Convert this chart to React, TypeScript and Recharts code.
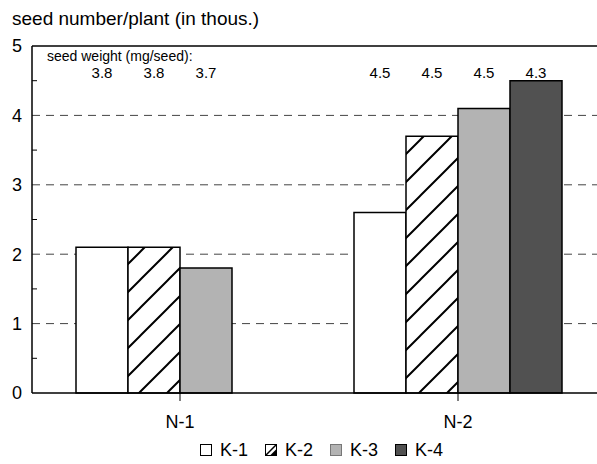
import React from "react";
import {
  Bar,
  BarChart,
  CartesianGrid,
  LabelList,
  Legend,
  ReferenceLine,
  XAxis,
  YAxis,
} from "recharts";

const categories = ["N-1", "N-2"];
const k1 = [2.1, 2.6];
const k2 = [2.1, 3.7];
const k3 = [1.8, 4.1];
const k4 = [null, 4.5];

// seed weight (mg/seed) written above each bar
const w1 = [3.8, 4.5];
const w2 = [3.8, 4.5];
const w3 = [3.7, 4.5];
const w4 = [null, 4.3];

const yTicks = [0, 0.5, 1, 1.5, 2, 2.5, 3, 3.5, 4, 4.5, 5];
const gridValues = [1, 2, 3, 4];

const series = [
  { key: "k1", wKey: "w1", name: "K-1", fill: "#ffffff" },
  { key: "k2", wKey: "w2", name: "K-2", fill: "url(#hatch)" },
  { key: "k3", wKey: "w3", name: "K-3", fill: "#b3b3b3" },
  { key: "k4", wKey: "w4", name: "K-4", fill: "#515151" },
];

const data = categories.map((name, i) => ({
  name,
  k1: k1[i],
  k2: k2[i],
  k3: k3[i],
  k4: k4[i],
  w1: w1[i],
  w2: w2[i],
  w3: w3[i],
  w4: w4[i],
}));

const FONT = "'Liberation Sans', Arial, sans-serif";
const Y_TICK_MARGIN = 10;
const WEIGHT_LABEL_Y = 78;

const YTick = (props: any) => {
  const { x, y, payload } = props;
  const v = payload.value;
  if (Number.isInteger(v)) {
    return (
      <text x={x} y={y} dy="0.355em" textAnchor="end" fontSize={18} fill="#000" fontFamily={FONT}>
        {v}
      </text>
    );
  }
  const ax = x + Y_TICK_MARGIN;
  return <line x1={ax} x2={ax + 5} y1={y} y2={y} stroke="#000" strokeWidth={1} />;
};

const weightLabel = (props: any) => {
  const vb = props.viewBox ?? props;
  const { value } = props;
  if (value == null) return null;
  return (
    <text
      x={vb.x + vb.width / 2}
      y={WEIGHT_LABEL_Y}
      textAnchor="middle"
      fontSize={15}
      fill="#000"
      fontFamily={FONT}
    >
      {Number(value).toFixed(1)}
    </text>
  );
};

const LegendIcon = ({ name, fill }: { name: string; fill: string }) => {
  if (name === "K-2") {
    return (
      <svg width={12} height={12} style={{ display: "block" }}>
        <rect x={0.5} y={0.5} width={11} height={11} fill="#fff" stroke="#000" />
        <path d="M0.5,11.5 L11.5,0.5" stroke="#000" strokeWidth={1.5} />
        <path d="M5,11.5 L11.5,11.5 L11.5,5 Z" fill="#000" />
      </svg>
    );
  }
  return (
    <svg width={12} height={12} style={{ display: "block" }}>
      <rect
        x={0.5}
        y={0.5}
        width={11}
        height={11}
        fill={fill}
        stroke={name === "K-3" ? "#777" : "#000"}
      />
    </svg>
  );
};

const renderLegend = () => (
  <div
    style={{
      display: "flex",
      justifyContent: "center",
      alignItems: "center",
      height: 20,
      paddingLeft: 46,
      fontFamily: FONT,
      fontSize: 18,
      color: "#000",
    }}
  >
    {series.map((s, i) => (
      <div
        key={s.key}
        style={{
          display: "flex",
          alignItems: "center",
          marginRight: i < series.length - 1 ? 17 : 0,
        }}
      >
        <LegendIcon name={s.name} fill={s.fill} />
        <span style={{ marginLeft: 8, lineHeight: "20px" }}>{s.name}</span>
      </div>
    ))}
  </div>
);

export default function App() {
  return (
    <div
      style={{
        position: "absolute",
        left: 0,
        top: 0,
        width: 597,
        height: 464,
        background: "#fff",
        fontFamily: FONT,
      }}
    >
      <div
        style={{
          position: "absolute",
          left: 12,
          top: 9,
          fontSize: 19,
          lineHeight: "19px",
          whiteSpace: "nowrap",
          color: "#000",
        }}
      >
        seed number/plant (in thous.)
      </div>
      <div
        style={{
          position: "absolute",
          left: 47,
          top: 50,
          fontSize: 14,
          lineHeight: "12px",
          whiteSpace: "nowrap",
          color: "#000",
          zIndex: 2,
        }}
      >
        seed weight (mg/seed):
      </div>
      <BarChart
        width={597}
        height={464}
        data={data}
        margin={{ top: 46, right: 0, bottom: 4, left: 0 }}
        barSize={52}
        barGap={0}
      >
        <defs>
          <pattern id="hatch" patternUnits="userSpaceOnUse" width={28} height={28}>
            <rect width={28} height={28} fill="#fff" />
            <path
              d="M-7,7 L7,-7 M0,28 L28,0 M21,35 L35,21"
              stroke="#000"
              strokeWidth={2}
            />
          </pattern>
        </defs>
        <CartesianGrid
          vertical={false}
          horizontalValues={gridValues}
          stroke="#444"
          strokeDasharray="8 6"
        />
        <XAxis
          dataKey="name"
          padding={{ left: 9, right: 0 }}
          height={47}
          axisLine={{ stroke: "#000", strokeWidth: 1.5 }}
          tickLine={{ stroke: "#000", strokeWidth: 1 }}
          tickSize={8}
          tickMargin={14}
          tick={{ fill: "#000", fontSize: 18, fontFamily: FONT }}
        />
        <YAxis
          type="number"
          domain={[0, 5]}
          ticks={yTicks}
          interval={0}
          width={32}
          axisLine={{ stroke: "#000", strokeWidth: 1.5 }}
          tickLine={false}
          tickSize={0}
          tickMargin={Y_TICK_MARGIN}
          tick={<YTick />}
        />
        <ReferenceLine y={5} stroke="#000" strokeWidth={1.5} />
        <Legend verticalAlign="bottom" content={renderLegend} />
        {series.map((s) => (
          <Bar
            key={s.key}
            dataKey={s.key}
            name={s.name}
            fill={s.fill}
            stroke="#000"
            strokeWidth={1.5}
            isAnimationActive={false}
          >
            <LabelList dataKey={s.wKey} content={weightLabel} />
          </Bar>
        ))}
      </BarChart>
    </div>
  );
}
